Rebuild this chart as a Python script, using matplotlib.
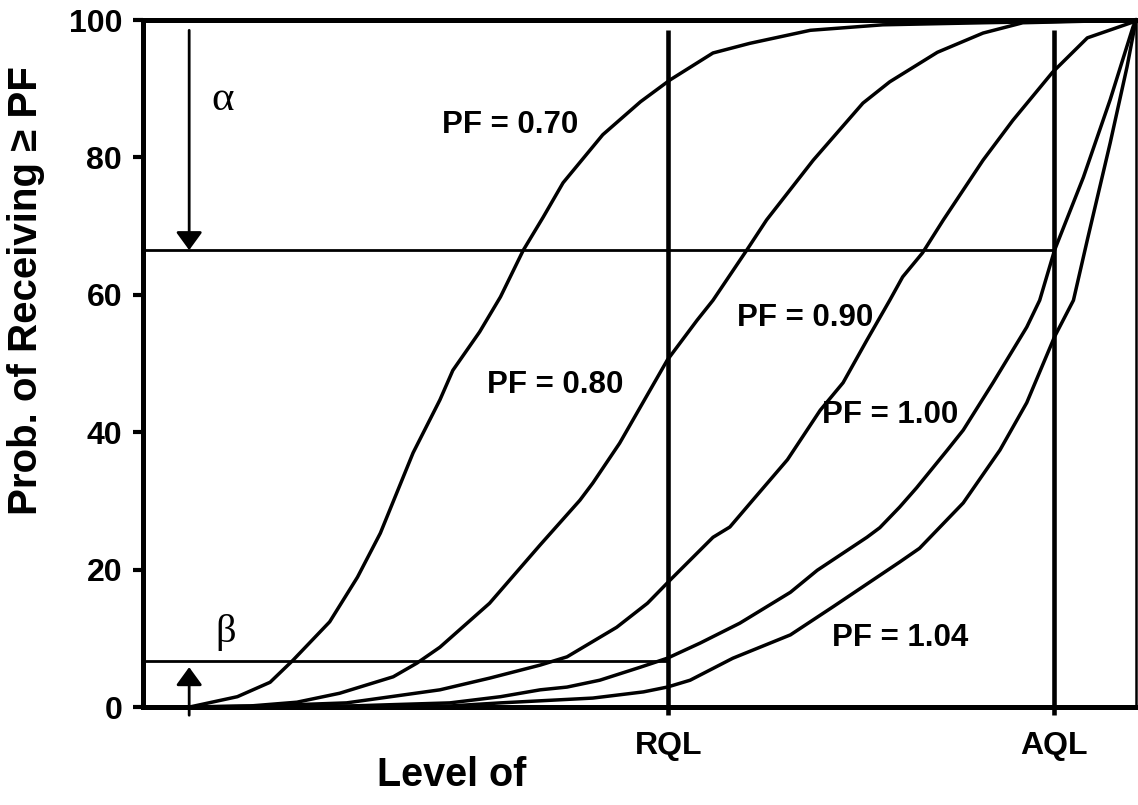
import matplotlib
matplotlib.use("Agg")
import matplotlib.pyplot as plt

# ---- data ----
x_070 = [4.7, 9.5, 12.8, 15.1, 18.8, 21.6, 23.9, 27.2, 29.9, 31.2, 33.9, 36.0, 38.3, 40.3, 42.3, 46.3, 50.1, 53.1, 57.4, 61.1, 67.2, 74.5, 84.6, 100]
y_070 = [0, 1.5, 3.6, 6.8, 12.4, 18.9, 25.3, 37.0, 44.7, 49.0, 54.6, 59.7, 66.5, 71.3, 76.3, 83.3, 88.1, 91.3, 95.2, 96.6, 98.5, 99.3, 99.6, 100]

x_080 = [4.7, 10.8, 15.5, 19.8, 25.2, 27.6, 29.9, 34.9, 40.0, 44.0, 45.3, 48.0, 52.8, 55.8, 57.4, 60.8, 62.8, 67.5, 72.5, 75.2, 80.0, 84.6, 88.6, 100]
y_080 = [0, 0.15, 0.7, 2.0, 4.4, 6.4, 8.7, 15.1, 23.6, 30.1, 32.6, 38.4, 50.5, 56.3, 59.2, 66.5, 70.9, 79.6, 87.9, 91.0, 95.3, 98.1, 99.6, 100]

x_090 = [4.7, 11.8, 20.5, 29.9, 34.9, 40.0, 42.7, 47.7, 50.8, 53.1, 57.4, 59.1, 61.4, 64.9, 68.2, 70.5, 72.9, 75.2, 76.5, 78.5, 80.6, 84.6, 87.6, 91.6, 95.1, 99.7, 100]
y_090 = [0, 0.15, 0.6, 2.5, 4.2, 6.1, 7.3, 11.6, 15.1, 18.5, 24.7, 26.2, 30.1, 36.0, 43.2, 47.2, 53.4, 59.2, 62.6, 66.1, 70.9, 79.6, 85.4, 92.4, 97.4, 99.7, 100]

x_100 = [4.7, 20.8, 30.9, 36.0, 40.0, 42.7, 46.0, 50.1, 52.8, 56.1, 60.1, 65.2, 67.9, 72.9, 74.2, 76.2, 77.9, 81.0, 82.6, 85.6, 89.0, 90.3, 91.8, 94.7, 97.4, 99.7, 100]
y_100 = [0, 0.15, 0.6, 1.5, 2.5, 2.9, 3.9, 5.8, 7.1, 9.3, 12.2, 16.7, 19.9, 24.7, 26.1, 29.1, 31.9, 37.4, 40.3, 47.2, 55.3, 59.2, 66.5, 77.1, 88.4, 99.0, 100]

x_104 = [4.7, 30.9, 36.0, 45.3, 50.4, 52.8, 55.1, 59.4, 65.2, 69.5, 76.2, 78.2, 82.6, 86.3, 89.0, 91.8, 93.7, 95.1, 97.4, 99.1, 100]
y_104 = [0, 0.15, 0.6, 1.3, 2.2, 2.9, 3.9, 7.1, 10.5, 14.6, 21.1, 23.1, 29.7, 37.4, 44.3, 53.9, 59.2, 68.0, 82.1, 93.2, 100]

curve_labels = ["PF = 0.70", "PF = 0.80", "PF = 0.90", "PF = 1.00", "PF = 1.04"]
label_x = [37.0, 41.5, 66.7, 75.2, 76.2]
label_y = [84.7, 46.9, 56.6, 42.5, 10.0]

y_ticks = [0, 20, 40, 60, 80, 100]
x_tick_labels = ["RQL", "AQL"]
x_tick_pos = [52.9, 91.7]
alpha_level = 66.5
beta_level = 6.7
arrow_x = 4.65

xs = [x_070, x_080, x_090, x_100, x_104]
ys = [y_070, y_080, y_090, y_100, y_104]

bold = {"family": ["Liberation Sans", "DejaVu Sans"], "weight": "bold"}

fig = plt.figure(figsize=(11.38, 8.05), dpi=100)
ax = fig.add_axes([143 / 1138, 1 - 707 / 805, (1136 - 143) / 1138, (707 - 20) / 805])

for xv, yv in zip(xs, ys):
    ax.plot(xv, yv, color="black", lw=2.5, solid_joinstyle="round", clip_on=False, zorder=3)

# vertical RQL/AQL lines
for xp in x_tick_pos:
    ax.plot([xp, xp], [0, 98.5], color="black", lw=3.3, zorder=2, solid_capstyle="butt")

# horizontal alpha/beta lines
ax.plot([0, x_tick_pos[1]], [alpha_level, alpha_level], color="black", lw=2.0, zorder=2)
ax.plot([0, x_tick_pos[0]], [beta_level, beta_level], color="black", lw=2.0, zorder=2)

# arrows
arrow_style = "-|>,head_length=1.1,head_width=0.8"
ax.annotate("", xy=(arrow_x, alpha_level), xytext=(arrow_x, 98.5),
            arrowprops=dict(arrowstyle=arrow_style, color="black", lw=2.0,
                            shrinkA=0, shrinkB=0))
ax.annotate("", xy=(arrow_x, 5.8), xytext=(arrow_x, -1.2),
            arrowprops=dict(arrowstyle=arrow_style, color="black", lw=2.0,
                            shrinkA=0, shrinkB=0), annotation_clip=False)

ax.text(8.0, 88.4, "α", fontsize=31, family=["Liberation Serif", "DejaVu Serif"], ha="center", va="center")
ax.text(8.3, 10.9, "β", fontsize=29, family=["Liberation Serif", "DejaVu Serif"], ha="center", va="center")

for t, lx, ly in zip(curve_labels, label_x, label_y):
    ax.text(lx, ly, t, fontsize=22.5, ha="center", va="center", **bold, zorder=4)

ax.set_xlim(0, 100)
ax.set_ylim(0, 100)
ax.set_yticks(y_ticks)
ax.set_yticklabels([str(v) for v in y_ticks], fontsize=23, **bold)
ax.set_xticks(x_tick_pos)
ax.set_xticklabels(x_tick_labels, fontsize=23, **bold)
ax.tick_params(axis="y", direction="out", length=7, width=3, pad=8)
ax.tick_params(axis="x", direction="out", length=6, width=3.3, pad=11)

for s in ["left", "bottom", "top"]:
    ax.spines[s].set_linewidth(3.6)
ax.spines["right"].set_linewidth(1.8)

fig.text(452 / 1138, 1 - 775 / 805, "Level of", fontsize=28.5, ha="center", va="center", **bold)
fig.text(26 / 1138, 1 - 291 / 805, "Prob. of Receiving ≥ PF", fontsize=29, rotation=90,
         ha="center", va="center", **bold)

fig.savefig("out.png", dpi=100)
